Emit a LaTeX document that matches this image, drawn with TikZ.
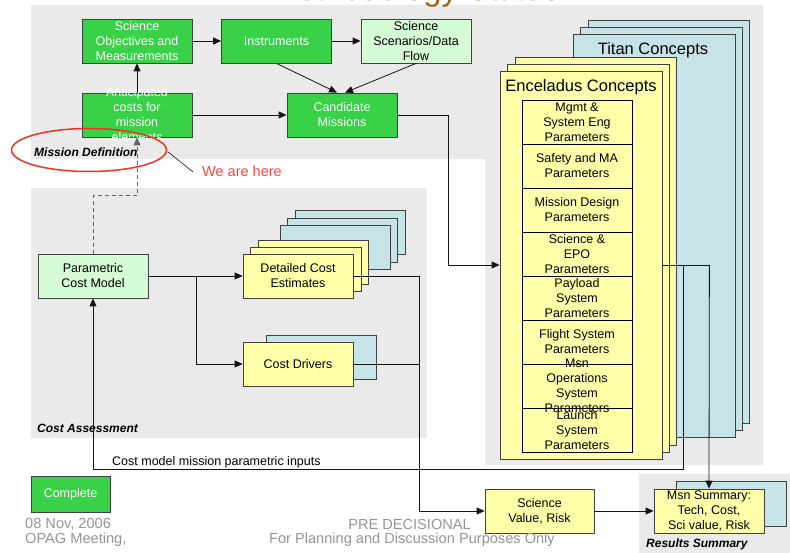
\documentclass[tikz,border=0pt]{standalone}
\usepackage{fontspec}
\setmainfont{Liberation Sans}
\usetikzlibrary{arrows.meta,calc,shapes.geometric}
\definecolor{bgrey}{RGB}{234,234,234}
\definecolor{sgreen}{RGB}{57,209,72}
\definecolor{lgreen}{RGB}{214,252,214}
\definecolor{syellow}{RGB}{255,255,170}
\definecolor{sblue}{RGB}{198,228,232}
\definecolor{edge}{RGB}{64,64,64}
\definecolor{wire}{RGB}{20,20,20}
\definecolor{tbrown}{RGB}{156,98,22}
\definecolor{hred}{RGB}{240,50,30}
\definecolor{htext}{RGB}{255,70,60}
\definecolor{foot}{RGB}{150,150,150}
\definecolor{dashgrey}{RGB}{100,100,100}
\begin{document}
\begin{tikzpicture}[x=1pt,y=-1pt,
  every node/.style={font=\fontsize{12.5}{15}\selectfont, inner sep=0pt, align=center},
  box/.style={draw=edge, line width=0.8pt, minimum width=110pt, minimum height=44pt},
  gbox/.style={box, fill=sgreen, text=white},
  lgbox/.style={box, fill=lgreen},
  ybox/.style={box, fill=syellow},
  bsheet/.style={draw=edge, line width=0.8pt, fill=sblue},
  ysheet/.style={draw=edge, line width=0.8pt, fill=syellow},
  cell/.style={draw=black, line width=0.8pt, minimum width=110pt, minimum height=44pt},
  wirestyle/.style={draw=wire, line width=0.8pt},
  arr/.style={wirestyle, -{Triangle[length=8pt,width=7pt]}},
  region/.style={font=\fontsize{12}{14}\selectfont\bfseries\itshape},
  footstyle/.style={text=foot, font=\fontsize{14.6}{17}\selectfont},
  bigtitle/.style={font=\fontsize{16.5}{19}\selectfont},
]
\useasboundingbox (0,0) rectangle (790,553);
\fill[white] (0,0) rectangle (790,553);
% background regions
\fill[bgrey] (31,5) -- (763,5) -- (763,465) -- (485,465) -- (485,159) -- (31,159) -- cycle;
\fill[bgrey] (31,188) rectangle (427,438);
\fill[bgrey] (639,474) rectangle (790,553);
% clipped title
\begin{scope}
\clip (0,0) rectangle (790,553);
\node[anchor=base west, text=tbrown, font=\fontsize{32.8}{36}\selectfont] (title) at (270,0.5) {Methodology Status};
\end{scope}

% Mission definition
\node[gbox] (sci) at (137,41) {Science\\Objectives and\\Measurements};
\node[gbox] (inst) at (276.5,41) {Instruments};
\node[lgbox] (scen) at (416,41) {Science\\Scenarios/Data\\Flow};
\node[gbox, label={[text=white]center:{Anticipated\\costs for\\mission\\elements}}] (ant) at (137,115) {};
\node[gbox] (cand) at (342,115) {Candidate\\Missions};
\node[region, anchor=west] (mdl) at (34,152) {Mission Definition};
\node[ellipse, draw=hred, line width=1.5pt, minimum width=155pt, minimum height=43pt] (ell) at (89,150) {};
\node[anchor=west, text=htext, font=\fontsize{14.5}{17}\selectfont] (here) at (202,171) {We are here};
\draw[wirestyle, line width=0.6pt] ($(ell.east)+(1,2)$) -- ($(here.west)+(-9,1)$);

% Cost assessment
\draw[bsheet] (295,210) rectangle (405,254);
\draw[bsheet] (287,218) rectangle (397,262);
\draw[bsheet] (280,225) rectangle (390,269);
\draw[ysheet] (258,240) rectangle (368,284);
\draw[ysheet] (250,247) rectangle (361,291);
\node[ybox] (det) at (298,276) {Detailed Cost\\Estimates};
\draw[bsheet] (266,335) rectangle (376,379);
\node[ybox] (drv) at (298,364) {Cost Drivers};
\node[lgbox] (pcm) at (93,276) {Parametric\\Cost Model};
\node[region, anchor=west] (cal) at (37,428) {Cost Assessment};

% Titan / Enceladus concepts
\draw[bsheet] (588,20) rectangle (749,423);
\draw[bsheet] (580,27) rectangle (742,430);
\draw[bsheet] (573,34) rectangle (735,437);
\node[bigtitle] (titan) at (653,50) {Titan Concepts};
\draw[ysheet] (515,57) rectangle (676,445);
\draw[ysheet] (507,64) rectangle (669,452);
\node[draw=edge, line width=0.8pt, fill=syellow, minimum width=162pt, minimum height=388pt] (enc) at (581,265) {};
\node[bigtitle] (enct) at (581,87) {Enceladus Concepts};
\node[cell] (p1) at (577,122) {Mgmt \&\\System Eng\\Parameters};
\node[cell] (p2) at (577,166) {Safety and MA\\Parameters};
\node[cell] (p3) at (577,210) {Mission Design\\Parameters};
\node[cell] (p4) at (577,254) {Science \&\\EPO\\Parameters};
\node[cell] (p5) at (577,298) {Payload\\System\\Parameters};
\node[cell] (p6) at (577,342) {Flight System\\Parameters};
\node[cell, label={center:{Msn\\Operations\\System\\Parameters}}] (p7) at (577,386) {};
\node[cell] (p8) at (577,430) {Launch\\System\\Parameters};

% Results
\node[gbox, minimum width=79pt, minimum height=36pt] (done) at (70.5,494) {Complete};
\node[ybox, minimum width=109pt] (sv) at (539.5,511) {Science\\Value, Risk};
\draw[bsheet] (676,481) rectangle (786,526);
\node[ybox] (msn) at (709,511) {Msn Summary:\\Tech, Cost,\\Sci value, Risk};
\node[region, anchor=west] (rsl) at (646,544) {Results Summary};

% connectors
\draw[arr] (sci.east) -- (inst.west);
\draw[arr] (inst.east) -- (scen.west);
\draw[arr] (inst.south) -- ($(cand.north)+(-5,0)$);
\draw[arr] (scen.south) -- ($(cand.north)+(3,0)$);
\draw[arr] (ant.north) -- (sci.south);
\draw[arr] (ant.east) -- (cand.west);
\draw[arr] (cand.east) -- ++(51,0) |- (enc.west);
\draw[arr, draw=dashgrey, dash pattern=on 4pt off 3pt] (pcm.north) -- ++(0,-58) -| (ant.south);
\draw[arr] (pcm.east) -- (det.west);
\draw[arr] ($(pcm.east)+(48,0)$) |- (drv.west);
\draw[wirestyle] (det.east) -- ++(66,0) coordinate (j1);
\draw[wirestyle] (drv.east) -| (j1);
\draw[arr] (j1) |- (sv.west);
\draw[wirestyle] (enc.east) -- ++(47,0) coordinate (j2);
\draw[arr] (j2) -- (msn.north);
\draw[arr] ($(enc.east)+(21,0)$) -- ++(0,204) -| (pcm.south);
\draw[arr] (sv.east) -- (msn.west);
\node[anchor=west] (cmt) at (112,462) {Cost model mission parametric inputs};

% footer
\node[footstyle, anchor=west] (f1) at (25,524) {08 Nov, 2006};
\node[footstyle, anchor=west] (f2) at (25,540) {OPAG Meeting,};
\node[footstyle, anchor=east] (f3) at (471,524) {PRE DECISIONAL};
\node[footstyle] (f4) at (412,540) {For Planning and Discussion Purposes Only};
\end{tikzpicture}
\end{document}
